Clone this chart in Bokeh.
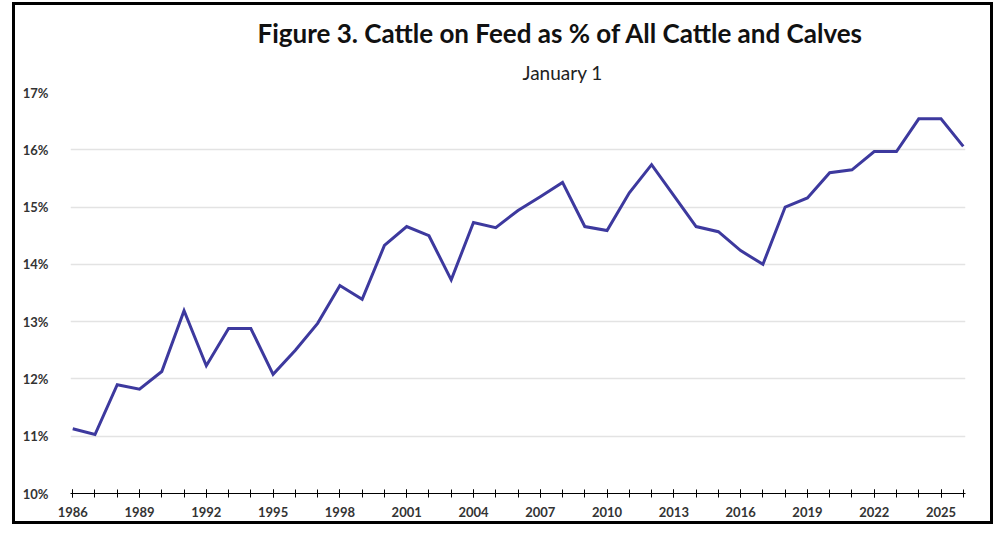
from bokeh.plotting import figure
from bokeh.models import FixedTicker, Title, CustomJSTickFormatter, Range1d
from bokeh.embed import file_html
from bokeh.resources import INLINE

years = list(range(1986, 2027))
pct = [11.13, 11.03, 11.90, 11.82, 12.13, 13.19, 12.23, 12.88, 12.88, 12.08,
       12.50, 12.97, 13.63, 13.39, 14.33, 14.66, 14.50, 13.73, 14.73, 14.64,
       14.94, 15.18, 15.43, 14.66, 14.59, 15.25, 15.74, 15.20, 14.66, 14.57,
       14.24, 14.00, 15.00, 15.16, 15.60, 15.65, 15.97, 15.97, 16.54, 16.54,
       16.06]
y_ticks = [10, 11, 12, 13, 14, 15, 16, 17]
grid_ticks = [11, 12, 13, 14, 15, 16]
x_label_years = list(range(1986, 2027, 3))

title_text = "Figure 3. Cattle on Feed as % of All Cattle and Calves"
subtitle_text = "January 1"

FONT = "Lato"

p = figure(width=981, height=522, output_backend="svg", toolbar_location=None,
           x_range=Range1d(1985.9, 2026.1), y_range=Range1d(10, 17),
           min_border_left=55, min_border_right=31, min_border_top=87, min_border_bottom=34)
p.styles = {"border": "3px solid black", "margin-left": "12px", "margin-top": "2px"}
p.outline_line_color = None
p.background_fill_color = "white"
p.border_fill_color = "white"

p.add_layout(Title(text=subtitle_text, text_font=FONT, text_font_size="19px",
                   text_font_style="normal", text_color="#222222", align="left",
                   offset=452, standoff=18), "above")
p.add_layout(Title(text=title_text, text_font=FONT, text_font_size="26px",
                   text_font_style="bold", text_color="#111111", align="left",
                   offset=187, standoff=2), "above")

p.line(years, pct, line_color="#3d399e", line_width=3, line_join="miter")

# y axis
p.yaxis.ticker = FixedTicker(ticks=y_ticks)
p.yaxis.formatter = CustomJSTickFormatter(code="return tick.toFixed(0) + '%';")
p.yaxis.axis_line_color = None
p.yaxis.major_tick_line_color = None
p.yaxis.minor_tick_line_color = None
p.yaxis.major_label_text_font = FONT
p.yaxis.major_label_text_font_size = "13px"
p.yaxis.major_label_text_font_style = "bold"
p.yaxis.major_label_text_color = "#333333"
p.yaxis.major_label_standoff = 16

# x axis
p.xaxis.ticker = FixedTicker(ticks=x_label_years, minor_ticks=years)
p.xaxis.formatter = CustomJSTickFormatter(code="return tick.toFixed(0);")
p.xaxis.axis_line_color = "black"
p.xaxis.axis_line_width = 1
p.xaxis.major_tick_in = 4
p.xaxis.major_tick_out = 4
p.xaxis.minor_tick_in = 4
p.xaxis.minor_tick_out = 4
p.xaxis.major_tick_line_color = "black"
p.xaxis.minor_tick_line_color = "black"
p.xaxis.major_label_text_font = FONT
p.xaxis.major_label_text_font_size = "13px"
p.xaxis.major_label_text_font_style = "bold"
p.xaxis.major_label_text_color = "#333333"
p.xaxis.major_label_standoff = 9

p.xgrid.grid_line_color = None
p.ygrid.ticker = FixedTicker(ticks=grid_ticks)
p.ygrid.grid_line_color = "#e3e3e3"
p.ygrid.grid_line_width = 1.5

open("out.html", "w").write(file_html(p, INLINE))
